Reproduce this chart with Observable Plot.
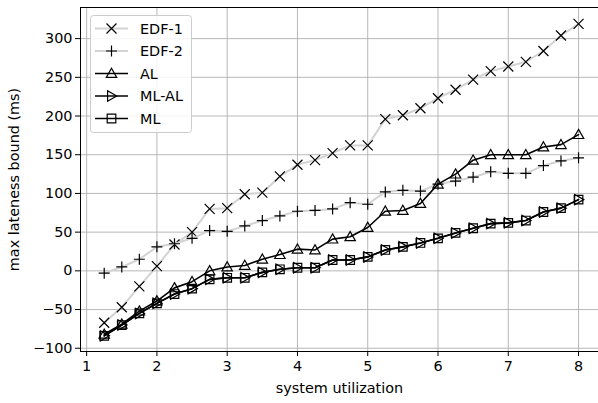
<!DOCTYPE html>
<html><head><meta charset="utf-8">
<script src="https://cdn.jsdelivr.net/npm/d3@7"></script>
<script src="https://cdn.jsdelivr.net/npm/@observablehq/plot@0.6"></script>
<style>
body{margin:0;background:#fff}
#wrap{position:relative;width:598px;height:403px}
#wrap svg{position:absolute;left:0;top:0}
</style>
</head><body><div id="wrap"></div>
<script>
const utilization = [1.25,1.5,1.75,2,2.25,2.5,2.75,3,3.25,3.5,3.75,4,4.25,4.5,4.75,5,5.25,5.5,5.75,6,6.25,6.5,6.75,7,7.25,7.5,7.75,8];
const edf1 = [-67,-47,-20,6,34,50,80,81,99,101,122,137,143,152,162,162,196,201,210,223,234,247,258,264,270,284,304,319];
const edf2 = [-3,5,15,31,35,42,52,51,58,65,71,77,78,80,88,86,102,104,103,112,116,121,128,126,126,136,142,146];
const al   = [-82,-69,-52,-39,-22,-14,0,5,7,15,21,28,27,41,44,56,77,78,87,112,125,143,150,150,150,160,163,176];
const mlal = [-84,-70,-55,-42,-30,-23,-11,-9,-9,-2,2,4,4,14,14,18,27,31,36,42,49,55,61,62,65,76,81,92];
const ml   = [-84,-70,-55,-42,-30,-23,-11,-9,-9,-2,2,4,4,14,14,18,27,31,36,42,49,55,61,62,65,76,81,92];
const xTicks = [1,2,3,4,5,6,7,8];
const yTicks = [-100,-50,0,50,100,150,200,250,300];
const seriesNames = ["EDF-1","EDF-2","AL","ML-AL","ML"];

const font = "'DejaVu Sans', sans-serif";
const fs = 14.4;
const sym = {
  times: {draw(c){const s=5;c.moveTo(-s,-s);c.lineTo(s,s);c.moveTo(s,-s);c.lineTo(-s,s);}},
  plus: {draw(c){const s=5.5;c.moveTo(-s,0);c.lineTo(s,0);c.moveTo(0,-s);c.lineTo(0,s);}},
  tri: {draw(c){const s=5.2;c.moveTo(0,-s);c.lineTo(s,s*0.75);c.lineTo(-s,s*0.75);c.closePath();}},
  triR: {draw(c){const s=5.2;c.moveTo(s,0);c.lineTo(-s*0.75,-s);c.lineTo(-s*0.75,s);c.closePath();}},
  square: {draw(c){const s=4.3;c.rect(-s,-s,2*s,2*s);}}
};
const styles = {
  "EDF-1": {stroke:"#d3d3d3", width:2, symbol:sym.times},
  "EDF-2": {stroke:"#d3d3d3", width:2, symbol:sym.plus},
  "AL":    {stroke:"#000", width:1.6, symbol:sym.tri},
  "ML-AL": {stroke:"#000", width:1.6, symbol:sym.triR},
  "ML":    {stroke:"#000", width:1.6, symbol:sym.square}
};
const values = {"EDF-1":edf1,"EDF-2":edf2,"AL":al,"ML-AL":mlal,"ML":ml};

const xDomain = [0.9125, 8.284];
const yDomain = [-104.2, 340.2];

const marks = [
  Plot.gridX(xTicks, {stroke:"#b0b0b0", strokeOpacity:1, strokeWidth:0.9}),
  Plot.gridY(yTicks, {stroke:"#b0b0b0", strokeOpacity:1, strokeWidth:0.9}),
];
for (const name of seriesNames) {
  const st = styles[name];
  const data = utilization.map((u,i)=>({u, v: values[name][i]}));
  marks.push(Plot.line(data, {x:"u", y:"v", stroke:st.stroke, strokeWidth:st.width}));
  marks.push(Plot.dot(data, {x:"u", y:"v", symbol:st.symbol, stroke:"#000", fill:"none", strokeWidth:1.2, r:5}));
}
marks.push(
  Plot.ruleX([xDomain[0]], {stroke:"#000", strokeWidth:1}),
  Plot.ruleY([yDomain[0]], {stroke:"#000", strokeWidth:1}),
  Plot.ruleY([yDomain[1]], {stroke:"#000", strokeWidth:1}),
  Plot.axisX(xTicks, {tickSize:5, tickPadding:4, fontSize:fs, label:"system utilization", labelAnchor:"center", labelArrow:"none", labelOffset:41}),
  Plot.axisY(yTicks, {tickSize:5, tickPadding:3, fontSize:fs, label:"max lateness bound (ms)", labelAnchor:"center", labelArrow:"none", labelOffset:72})
);

const chart = Plot.plot({
  width:598, height:403,
  marginLeft:80, marginRight:0, marginTop:7, marginBottom:52,
  style:{fontFamily:font, fontSize:fs+"px", color:"#000", background:"#fff"},
  x:{domain:xDomain},
  y:{domain:yDomain},
  marks
});
const wrap = document.getElementById("wrap");
wrap.appendChild(chart);

// legend overlay
const lg = d3.select(wrap).append("svg").attr("width",598).attr("height",403)
  .style("font-family", font).style("font-size",fs+"px");
lg.append("rect").attr("x",90.5).attr("y",15.5).attr("width",101).attr("height",117).attr("rx",3)
  .attr("fill","#fff").attr("fill-opacity",0.85).attr("stroke","#cccccc");
seriesNames.forEach((name,i)=>{
  const st = styles[name];
  const y = 28.5 + i*22.5;
  lg.append("line").attr("x1",95).attr("x2",128).attr("y1",y).attr("y2",y)
    .attr("stroke",st.stroke).attr("stroke-width",st.width);
  const p = d3.path(); st.symbol.draw(p);
  lg.append("path").attr("d",p.toString()).attr("transform",`translate(111.5,${y})`)
    .attr("fill","none").attr("stroke","#000").attr("stroke-width",1.2);
  lg.append("text").attr("x",140).attr("y",y).attr("dy","0.35em").text(name);
});
</script>
</body></html>
